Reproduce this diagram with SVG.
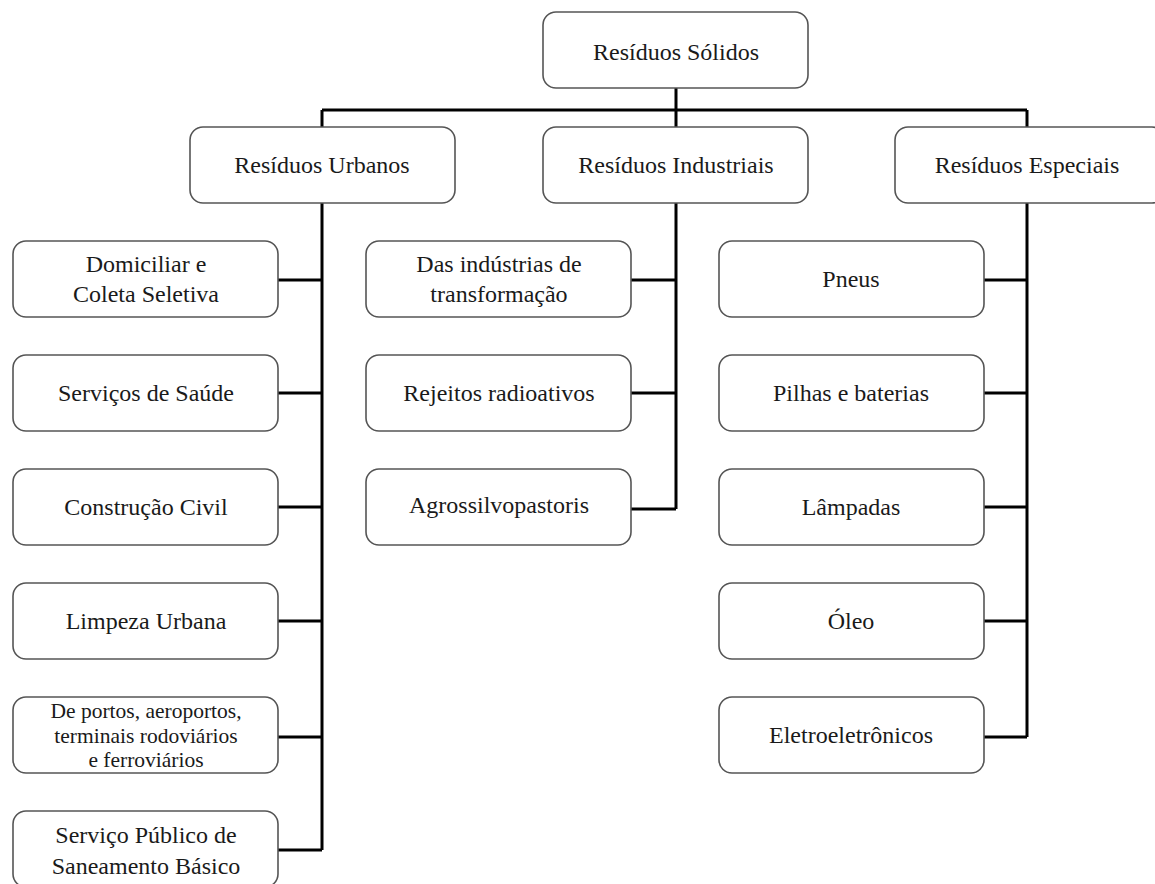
<svg xmlns="http://www.w3.org/2000/svg" width="1155" height="884" viewBox="0 0 1155 884">
<style>
.box{fill:#fff;stroke:#555;stroke-width:1.6}
.t{font-family:'Liberation Serif','Times New Roman','DejaVu Serif',serif;font-size:24px;fill:#1a1a1a;text-anchor:middle}
.s{font-size:21.5px}
.c{stroke:#000;stroke-width:3;fill:none}
</style>
<rect width="1155" height="884" fill="#fff"/>
<g id="connectors">
<path class="c" d="M676 88V127M322 110H1027M322 110V127M1027 110V127"/>
<path class="c" d="M322 203V850M278 280H322M278 393H322M278 507H322M278 621H322M278 737H322M278 850H322"/>
<path class="c" d="M676 203V509M631 280H676M631 393H676M631 509H676"/>
<path class="c" d="M1027 203V737M984 280H1027M984 393H1027M984 507H1027M984 621H1027M984 737H1027"/>
</g>
<g id="n-solidos"><rect class="box" x="543" y="12" width="265" height="76" rx="13"/><text class="t" x="676" y="60">Resíduos Sólidos</text></g>
<g id="n-urbanos"><rect class="box" x="190" y="127" width="265" height="76" rx="13"/><text class="t" x="322" y="173">Resíduos Urbanos</text></g>
<g id="n-industriais"><rect class="box" x="543" y="127" width="265" height="76" rx="13"/><text class="t" x="676" y="173">Resíduos Industriais</text></g>
<g id="n-especiais"><rect class="box" x="895" y="127" width="270" height="76" rx="13"/><text class="t" x="1027" y="173">Resíduos Especiais</text></g>
<g id="n-domiciliar"><rect class="box" x="13" y="241" width="265" height="76" rx="13"/><text class="t" x="146" y="272">Domiciliar e</text><text class="t" x="146" y="302">Coleta Seletiva</text></g>
<g id="n-saude"><rect class="box" x="13" y="355" width="265" height="76" rx="13"/><text class="t" x="146" y="401">Serviços de Saúde</text></g>
<g id="n-construcao"><rect class="box" x="13" y="469" width="265" height="76" rx="13"/><text class="t" x="146" y="515">Construção Civil</text></g>
<g id="n-limpeza"><rect class="box" x="13" y="583" width="265" height="76" rx="13"/><text class="t" x="146" y="629">Limpeza Urbana</text></g>
<g id="n-portos"><rect class="box" x="13" y="697" width="265" height="76" rx="13"/><text class="t s" x="146" y="718">De portos, aeroportos,</text><text class="t s" x="146" y="743">terminais rodoviários</text><text class="t s" x="146" y="767">e ferroviários</text></g>
<g id="n-saneamento"><rect class="box" x="13" y="811" width="265" height="76" rx="13"/><text class="t" x="146" y="843">Serviço Público de</text><text class="t" x="146" y="874">Saneamento Básico</text></g>
<g id="n-transformacao"><rect class="box" x="366" y="241" width="265" height="76" rx="13"/><text class="t" x="499" y="272">Das indústrias de</text><text class="t" x="499" y="302">transformação</text></g>
<g id="n-radioativos"><rect class="box" x="366" y="355" width="265" height="76" rx="13"/><text class="t" x="499" y="401">Rejeitos radioativos</text></g>
<g id="n-agro"><rect class="box" x="366" y="469" width="265" height="76" rx="13"/><text class="t" x="499" y="513">Agrossilvopastoris</text></g>
<g id="n-pneus"><rect class="box" x="719" y="241" width="265" height="76" rx="13"/><text class="t" x="851" y="287">Pneus</text></g>
<g id="n-pilhas"><rect class="box" x="719" y="355" width="265" height="76" rx="13"/><text class="t" x="851" y="401">Pilhas e baterias</text></g>
<g id="n-lampadas"><rect class="box" x="719" y="469" width="265" height="76" rx="13"/><text class="t" x="851" y="515">Lâmpadas</text></g>
<g id="n-oleo"><rect class="box" x="719" y="583" width="265" height="76" rx="13"/><text class="t" x="851" y="629">Óleo</text></g>
<g id="n-eletro"><rect class="box" x="719" y="697" width="265" height="76" rx="13"/><text class="t" x="851" y="743">Eletroeletrônicos</text></g>
</svg>
